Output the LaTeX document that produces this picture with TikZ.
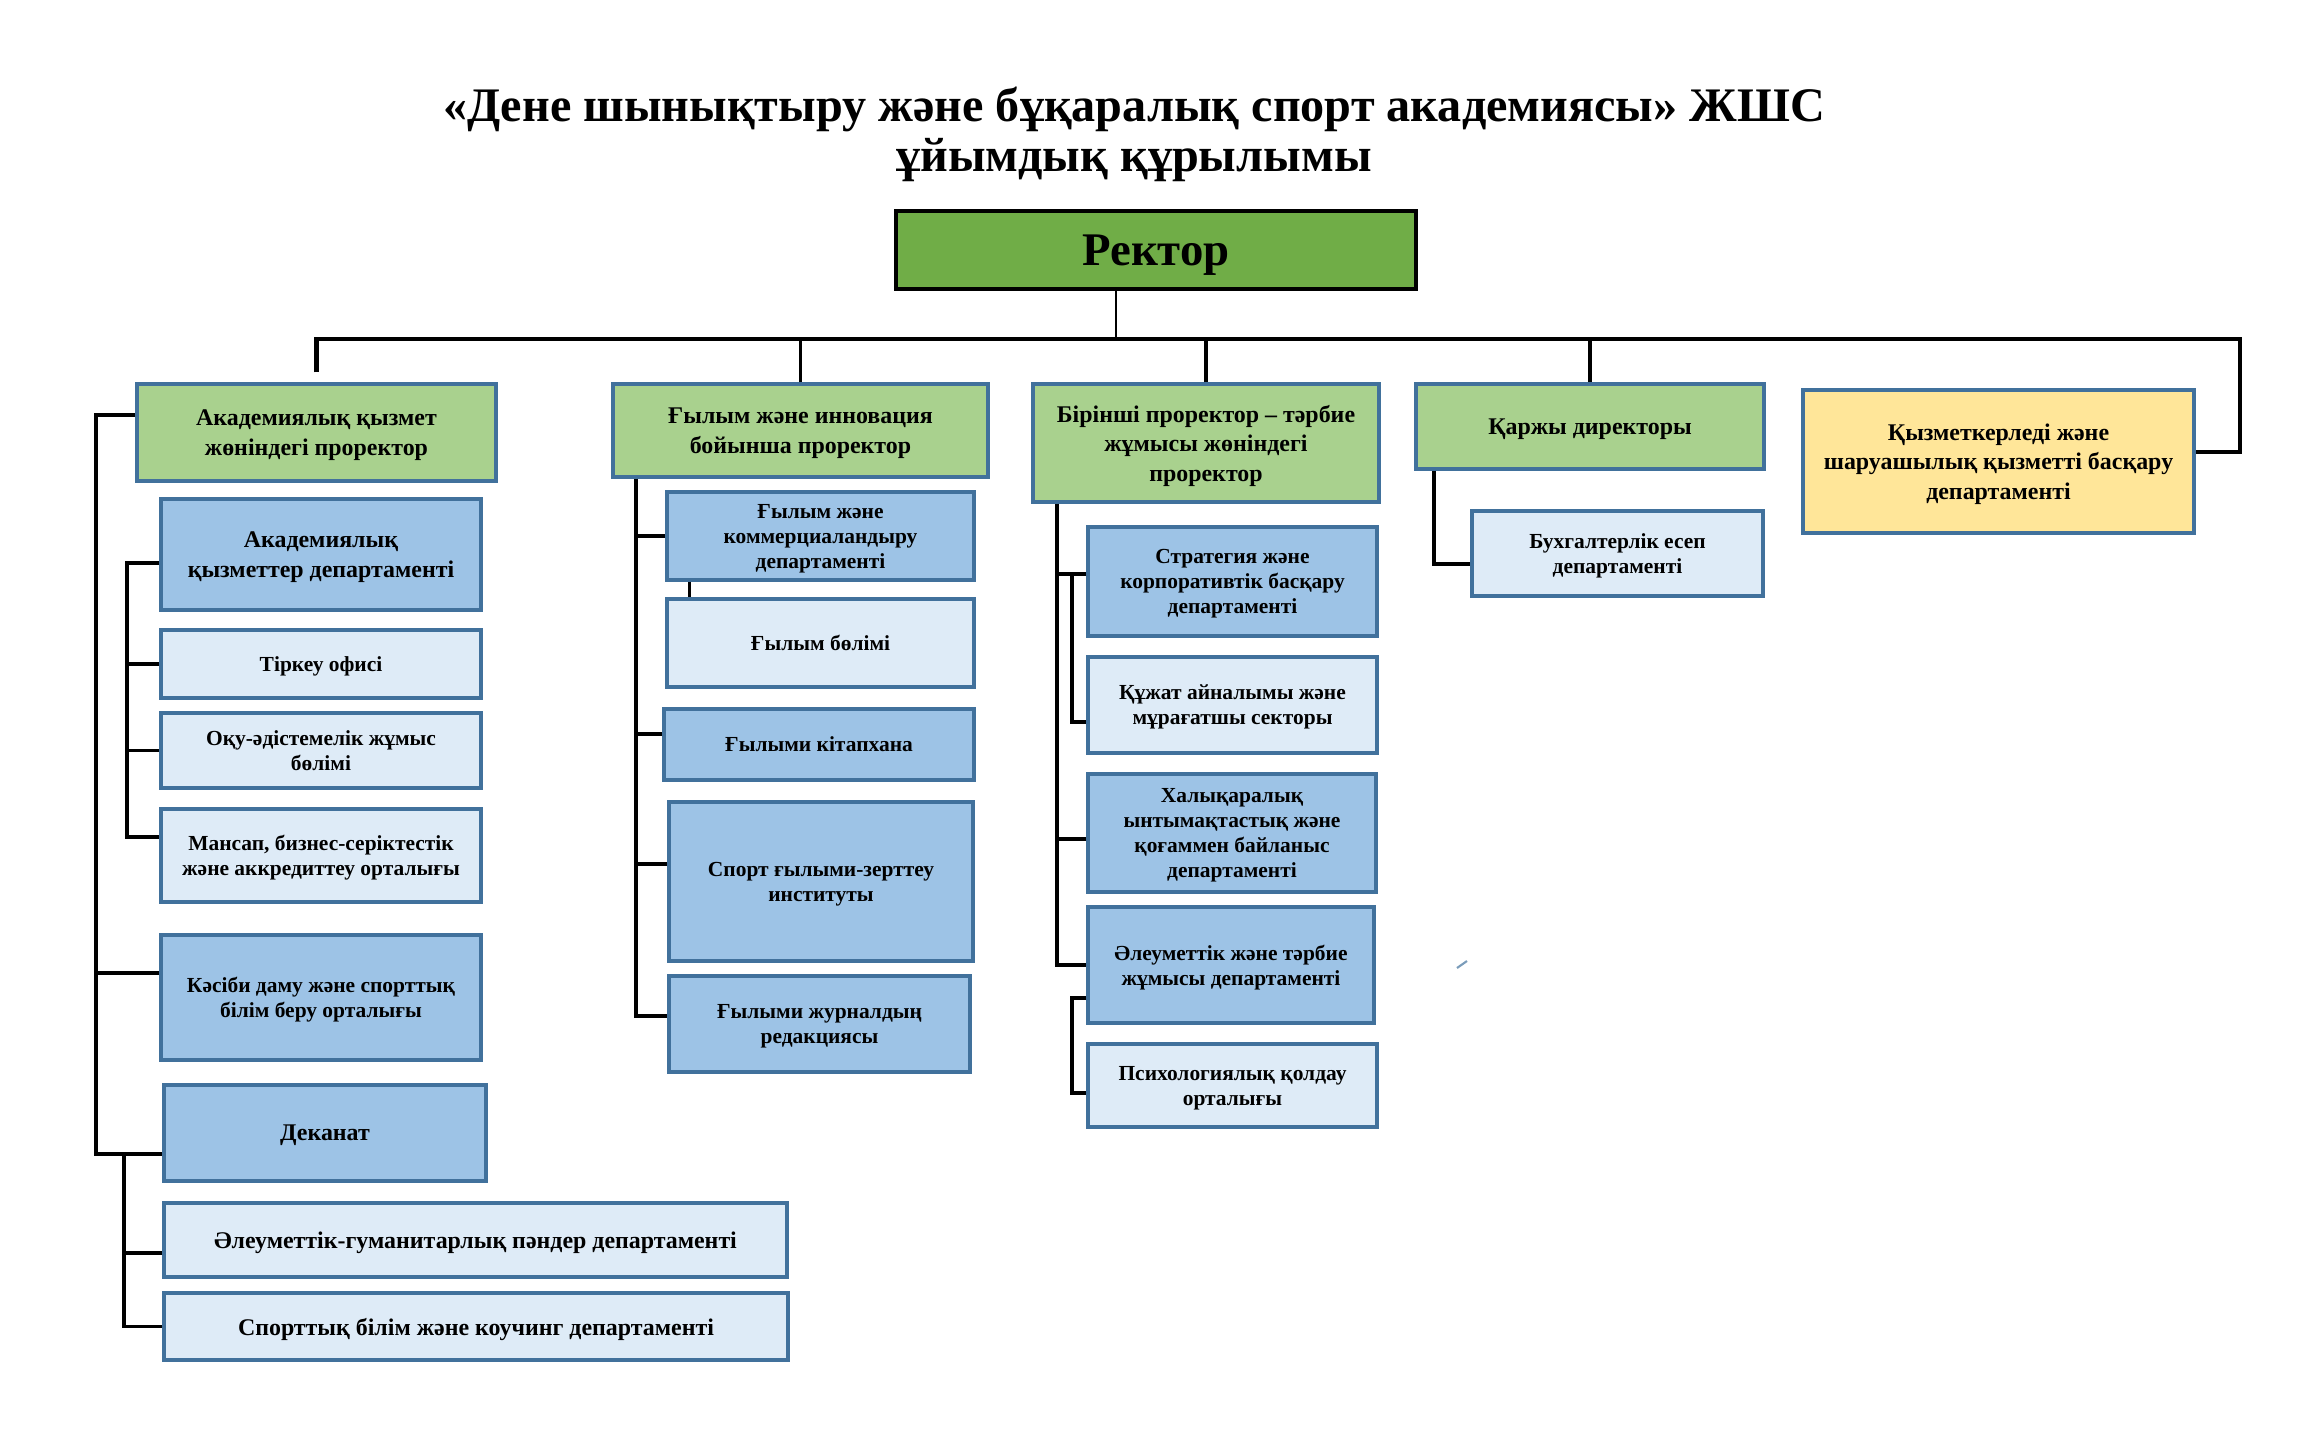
\documentclass[tikz,border=0pt]{standalone}
\usepackage{fontspec}
\setmainfont{Liberation Serif}
\usetikzlibrary{calc}
\definecolor{rectorGreen}{HTML}{70AD47}
\definecolor{proGreen}{HTML}{A9D18E}
\definecolor{deptBlue}{HTML}{9DC3E6}
\definecolor{deptLight}{HTML}{DEEBF7}
\definecolor{staffYellow}{HTML}{FFE699}
\definecolor{frameBlue}{HTML}{41719C}

\tikzset{
  sz/.style 2 args={minimum width=#1*0.01cm,minimum height=#2*0.01cm},
  unit/.style={draw=frameBlue,line width=0.9pt,align=center,inner sep=1pt,text depth=-0.8pt,
    font=\bfseries\fontsize{6.1}{7.1}\selectfont},
  pro/.style={unit,fill=proGreen,font=\bfseries\fontsize{6.8}{8.4}\selectfont},
  big/.style={font=\bfseries\fontsize{6.8}{8.4}\selectfont},
  mid/.style={unit,fill=deptBlue},
  light/.style={unit,fill=deptLight},
  link/.style={line width=1pt,black},
}

\begin{document}
\begin{tikzpicture}[x=0.01cm,y=-0.01cm]
  \useasboundingbox (0,0) rectangle (2315,1439);
  \node[align=center,font=\bfseries\fontsize{13.7}{14.2}\selectfont] (title) at (1134,134)
    {«Дене шынықтыру және бұқаралық спорт академиясы» ЖШС\\ұйымдық құрылымы};
  \node[draw=black,line width=1.3pt,fill=rectorGreen,sz={520}{78},text depth=-1.1pt,
    font=\bfseries\fontsize{13.3}{15}\selectfont] (rector) at (1156,250) {Ректор};

  % prorectors
  \node[pro,sz={359}{97}] (acadPro) at (316.5,432.5) {Академиялық қызмет\\жөніндегі проректор};
  \node[pro,sz={375}{93}] (sciPro) at (800.5,430.5) {Ғылым және инновация\\бойынша проректор};
  \node[pro,sz={346}{118}] (firstPro) at (1206,443) {Бірінші проректор – тәрбие\\жұмысы жөніндегі\\проректор};
  \node[pro,sz={348}{85}] (finDir) at (1590,426.5) {Қаржы директоры};
  \node[pro,fill=staffYellow,sz={391}{143}] (staffDept) at (1998.5,461.5)
    {Қызметкерледі және\\шаруашылық қызметті басқару\\департаменті};

  % academic column
  \node[mid,big,sz={320}{111}] (acadSvc) at (321,554.5) {Академиялық\\қызметтер департаменті};
  \node[light,sz={320}{68}] (register) at (321,664) {Тіркеу офисі};
  \node[light,sz={320}{75}] (method) at (321,750.5) {Оқу-әдістемелік жұмыс\\бөлімі};
  \node[light,sz={320}{93}] (career) at (321,855.5) {Мансап, бизнес-серіктестік\\және аккредиттеу орталығы};
  \node[mid,sz={320}{125}] (profDev) at (321,997.5) {Кәсіби даму және спорттық\\білім беру орталығы};
  \node[mid,big,sz={322}{96}] (deanery) at (325,1133) {Деканат};
  \node[light,big,sz={623}{74}] (socHum) at (475.5,1240) {Әлеуметтік-гуманитарлық пәндер департаменті};
  \node[light,big,sz={624}{67}] (sportEd) at (476,1326.5) {Спорттық білім және коучинг департаменті};

  % science column
  \node[mid,sz={307}{88}] (commerce) at (820.5,536) {Ғылым және\\коммерциаландыру\\департаменті};
  \node[light,sz={307}{88}] (sciDiv) at (820.5,643) {Ғылым бөлімі};
  \node[mid,sz={310}{71}] (library) at (819,744.5) {Ғылыми кітапхана};
  \node[mid,sz={304}{159}] (sportInst) at (821,881.5) {Спорт ғылыми-зерттеу\\институты};
  \node[mid,sz={301}{96}] (journal) at (819.5,1024) {Ғылыми журналдың\\редакциясы};

  % first prorector column
  \node[mid,sz={289}{109}] (strategy) at (1232.5,581.5) {Стратегия және\\корпоративтік басқару\\департаменті};
  \node[light,sz={289}{96}] (archive) at (1232.5,705) {Құжат айналымы және\\мұрағатшы секторы};
  \node[mid,sz={288}{118}] (intl) at (1232,833) {Халықаралық\\ынтымақтастық және\\қоғаммен байланыс\\департаменті};
  \node[mid,sz={286}{116}] (social) at (1231,965) {Әлеуметтік және тәрбие\\жұмысы департаменті};
  \node[light,sz={289}{83}] (psych) at (1232.5,1085.5) {Психологиялық қолдау\\орталығы};

  % finance column
  \node[light,sz={291}{85}] (accounting) at (1617.5,553.5) {Бухгалтерлік есеп\\департаменті};

  % top level links
  \coordinate (topBus) at (2240,339);
  \path ([xshift=-0.4cm]rector.south) coordinate (rcB)
        ([yshift=0.1cm]acadPro.north) coordinate (apT)
        ([yshift=0.095cm]staffDept.east) coordinate (sdR);
  \draw[line width=0.8pt] (rcB) -- (rcB |- topBus);
  \draw[link,line width=1.3pt] (apT) |- (topBus) |- (sdR);
  \foreach \n in {sciPro,firstPro,finDir}
    \draw[link] (\n.north) -- (\n.north |- topBus);

  % academic links
  \coordinate (leftBus) at (96,0);
  \coordinate (acadBus) at (127,0);
  \coordinate (deanBus) at (124,0);
  \path ([yshift=0.175cm]acadPro.west) coordinate (apL)
        ([yshift=0.245cm]profDev.west) coordinate (pdL)
        ([yshift=-0.21cm]deanery.west) coordinate (deL)
        ([yshift=-0.085cm]acadSvc.west) coordinate (asL)
        ([yshift=0.185cm]career.west) coordinate (caL)
        ([yshift=-0.13cm]socHum.west) coordinate (shL);
  \draw[link] (apL) -| (leftBus |- deL) -- (deL);
  \draw[link] (pdL) -- (pdL -| leftBus);
  \draw[link] (asL) -| (acadBus |- caL) -- (caL);
  \foreach \n in {register,method}
    \draw[link] (\n.west) -- (\n.west -| acadBus);
  \draw[link] (deL -| deanBus) |- (sportEd.west);
  \draw[link] (shL) -- (shL -| deanBus);

  % science links
  \coordinate (sciBus) at (636,0);
  \path ([yshift=0.105cm]library.west) coordinate (liL)
        ([yshift=0.175cm]sportInst.west) coordinate (siL)
        ([yshift=0.08cm]journal.west) coordinate (joL)
        ([xshift=0.24cm]commerce.south west) coordinate (cmS);
  \draw[link] (sciPro.south -| sciBus) |- (joL);
  \foreach \c in {commerce.west,liL,siL}
    \draw[link] (\c) -- (\c -| sciBus);
  \draw[link] (cmS) -- (cmS |- sciDiv.north);

  % first prorector links
  \coordinate (eduBus) at (1057,0);
  \coordinate (eduSub) at (1072,0);
  \path ([yshift=0.075cm]strategy.west) coordinate (stL)
        ([yshift=-0.17cm]archive.west) coordinate (arL)
        ([yshift=-0.06cm]intl.west) coordinate (inL)
        ([yshift=-0.33cm]social.west) coordinate (soL)
        ([yshift=-0.075cm]psych.west) coordinate (psL);
  \draw[link] (firstPro.south -| eduBus) |- (social.west);
  \draw[link] (stL) -- (stL -| eduBus);
  \draw[link] (stL -| eduSub) |- (arL);
  \draw[link] (inL) -- (inL -| eduBus);
  \draw[link] (soL) -| (eduSub |- psL) -- (psL);

  % finance links
  \coordinate (finBus) at (1434,0);
  \path ([yshift=-0.105cm]accounting.west) coordinate (acL);
  \draw[link] (finDir.south -| finBus) |- (acL);

  \draw[frameBlue!70,line width=0.6pt] (1457,968) -- (1467,961);
\end{tikzpicture}
\end{document}
